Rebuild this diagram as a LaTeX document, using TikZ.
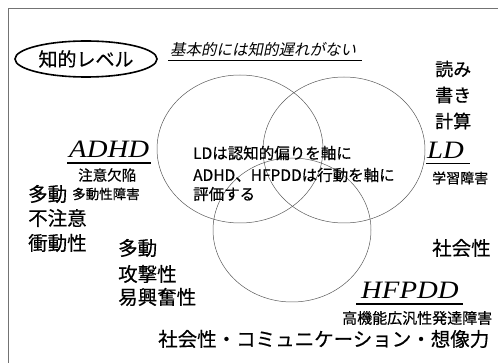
\documentclass[tikz,border=0pt]{standalone}
\usepackage{fontspec}
\setmainfont[FakeBold=0.5]{Noto Sans CJK JP}
\newfontfamily\jpsl[FakeSlant=0.2]{Noto Sans CJK JP}
\newfontfamily\tms[FakeStretch=1.15]{Liberation Serif}
\usetikzlibrary{shapes.geometric}
\tikzset{
  setshape/.style={ellipse, draw=black!65, line width=0.5pt, inner sep=0pt},
  txt/.style={inner sep=0pt, anchor=west, font=\fontsize{#1}{#1}\selectfont},
  abbr/.style={inner sep=0pt, anchor=west, font=\tms\itshape\fontsize{25}{25}\selectfont},
  ul/.style={line width=1.3pt},
  frame/.style={draw=black!55, line width=0.8pt}
}
\begin{document}
\begin{tikzpicture}[x=1pt,y=-1pt]
\useasboundingbox (0,0) rectangle (498,363);
% frame
\coordinate (fl) at (8,363);
\coordinate (fc) at (8,8);
\coordinate (fr) at (498,8);
\draw[frame] (fl) -- (fc) -- (fr);
% sets
\node[setshape, minimum width=166pt, minimum height=148pt] (setA) at (240,149) {};
\node[setshape, minimum width=162pt, minimum height=146pt] (setL) at (344,150) {};
\node[setshape, minimum width=158pt, minimum height=144pt] (setH) at (292,230) {};
% intelligence label
\node[ellipse, draw, line width=1.6pt, minimum width=142pt, minimum height=36pt, inner sep=0pt,
      font=\fontsize{19}{19}\selectfont] (lvl) at (86,59) {知的レベル};
\node[inner sep=0pt, anchor=west, font=\jpsl\fontsize{15.5}{15.5}\selectfont] (nodelay) at (170,50) {基本的には知的遅れがない};
\coordinate (u1a) at (168,60); \coordinate (u1b) at (362,60);
\draw[line width=0.6pt] (u1a) -- (u1b);
% LD side
\node[txt=18] (yomi) at (435,69) {読み};
\node[txt=18] (kaki) at (435,95) {書き};
\node[txt=18] (keisan) at (435,121) {計算};
\node[abbr] (ld) at (427,150) {LD};
\coordinate (u2a) at (426,163.5); \coordinate (u2b) at (470,163.5);
\draw[ul] (u2a) -- (u2b);
\node[txt=14] (ldname) at (432,178) {学習障害};
\node[txt=19.5] (shakai) at (432,248) {社会性};
% HFPDD
\node[abbr] (hfpdd) at (361,290) {HFPDD};
\coordinate (u3a) at (356,304); \coordinate (u3b) at (463,304);
\draw[ul] (u3a) -- (u3b);
\node[txt=15] (hfname) at (342,318) {高機能広汎性発達障害};
\node[txt=19.5] (comm) at (158,339) {社会性・コミュニケーション・想像力};
% ADHD
\node[abbr] (adhd) at (69,149) {ADHD};
\coordinate (u4a) at (67,163); \coordinate (u4b) at (151,163);
\draw[ul] (u4a) -- (u4b);
\node[txt=14.5] (adhdname1) at (78,175) {注意欠陥};
\node[txt=19.5] (tadou1) at (28,194) {多動};
\node[txt=13.5] (adhdname2) at (72,194) {多動性障害};
\node[txt=19.5] (fuchui) at (28,218) {不注意};
\node[txt=19.5] (shodo) at (28,243) {衝動性};
\node[txt=19.5] (tadou2) at (118,248) {多動};
\node[txt=19.5] (kogeki) at (118,274) {攻撃性};
\node[txt=19.5] (ikofun) at (118,297) {易興奮性};
% centre text
\node[txt=15.5] (c1) at (193,153) {LDは認知的偏りを軸に};
\node[txt=15.5] (c2) at (193,175) {ADHD、HFPDDは行動を軸に};
\node[txt=15.5] (c3) at (193,194) {評価する};
\end{tikzpicture}
\end{document}
